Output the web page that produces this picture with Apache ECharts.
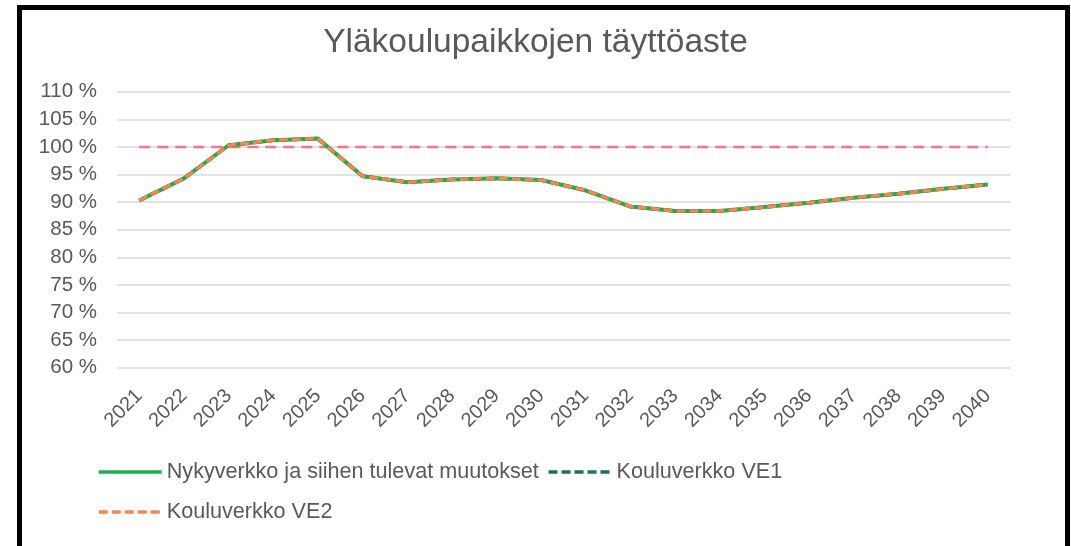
<!DOCTYPE html>
<html>
<head>
<meta charset="utf-8">
<script src="https://cdn.jsdelivr.net/npm/echarts@6/dist/echarts.min.js"></script>
<style>
  html, body { margin: 0; padding: 0; background: #fff; }
  #chart { position: absolute; left: 0; top: 0; width: 1071px; height: 546px; }
  #frame { position: absolute; left: 17px; top: 5px; width: 1043px; height: 620px;
           border: 5px solid #000; pointer-events: none; }
</style>
</head>
<body>
<div id="chart"></div>
<div id="frame"></div>
<script>
const years = ['2021','2022','2023','2024','2025','2026','2027','2028','2029','2030',
               '2031','2032','2033','2034','2035','2036','2037','2038','2039','2040'];
const nykyverkko = [90.3, 94.3, 100.3, 101.2, 101.5, 94.7, 93.6, 94.1, 94.3, 94.0,
                    92.1, 89.2, 88.4, 88.4, 89.1, 89.9, 90.8, 91.5, 92.4, 93.2];
const ve1 = [90.3, 94.3, 100.3, 101.2, 101.5, 94.7, 93.6, 94.1, 94.3, 94.0,
             92.1, 89.2, 88.4, 88.4, 89.1, 89.9, 90.8, 91.5, 92.4, 93.2];
const ve2 = [90.3, 94.3, 100.3, 101.2, 101.5, 94.7, 93.6, 94.1, 94.3, 94.0,
             92.1, 89.2, 88.4, 88.4, 89.1, 89.9, 90.8, 91.5, 92.4, 93.2];
const capacity = [100, 100, 100, 100, 100, 100, 100, 100, 100, 100,
                  100, 100, 100, 100, 100, 100, 100, 100, 100, 100];
const seriesNames = ['Nykyverkko ja siihen tulevat muutokset', 'Kouluverkko VE1', 'Kouluverkko VE2'];

const font = 'Liberation Sans, Arial, sans-serif';
const grey = '#595959';
const cGreen = '#16b04c', cTeal = '#1d6f5a', cOrange = '#f5874a';
const noSym = { color: 'transparent', borderWidth: 0, opacity: 0 };
const chart = echarts.init(document.getElementById('chart'), null, { renderer: 'canvas' });
chart.setOption({
  animation: false,
  backgroundColor: '#fff',
  title: {
    text: 'Yläkoulupaikkojen täyttöaste',
    left: 'center',
    top: 21,
    textStyle: { fontFamily: font, fontSize: 33.5, fontWeight: 'normal', color: grey }
  },
  legend: [
    {
      data: [
        { name: seriesNames[0], itemStyle: noSym, lineStyle: { color: cGreen, width: 3.5, type: 'solid' } },
        { name: seriesNames[1], itemStyle: noSym, lineStyle: { color: cTeal, width: 3.5, type: [9, 4] } }
      ],
      left: 92, top: 456,
      orient: 'horizontal',
      itemWidth: 63, itemHeight: 14, itemGap: 8,
      textStyle: { fontFamily: font, fontSize: 21.6, color: grey }
    },
    {
      data: [
        { name: seriesNames[2], itemStyle: noSym, lineStyle: { color: cOrange, width: 3.5, type: [9, 4] } }
      ],
      left: 92, top: 496,
      orient: 'horizontal',
      itemWidth: 63, itemHeight: 14, itemGap: 8,
      textStyle: { fontFamily: font, fontSize: 21.6, color: grey }
    }
  ],
  grid: { left: 117, right: 61, top: 91.7, bottom: 178.3 },
  xAxis: {
    type: 'category',
    data: years,
    boundaryGap: true,
    axisLine: { show: false },
    axisTick: { show: false },
    axisLabel: { rotate: 45, margin: 25, fontFamily: font, fontSize: 20, color: grey, interval: 0 }
  },
  yAxis: {
    type: 'value',
    min: 60, max: 110, interval: 5,
    axisLine: { show: false },
    axisTick: { show: false },
    axisLabel: { formatter: '{value} %', margin: 20, fontFamily: font, fontSize: 20.5, color: grey },
    splitLine: { lineStyle: { color: '#d9d9d9', width: 1.5 } }
  },
  series: [
    {
      name: 'capacity',
      type: 'line',
      data: capacity,
      symbol: 'none',
      silent: true,
      lineStyle: { color: '#ff6f8e', width: 2.5, type: [11, 7] },
      z: 1
    },
    {
      name: seriesNames[0],
      type: 'line',
      data: nykyverkko,
      symbol: 'none',
      color: cGreen,
      lineStyle: { color: cGreen, width: 4 },
      z: 2
    },
    {
      name: seriesNames[1],
      type: 'line',
      data: ve1,
      symbol: 'none',
      color: cTeal,
      lineStyle: { color: cTeal, width: 3.5, type: [9, 4] },
      z: 3
    },
    {
      name: seriesNames[2],
      type: 'line',
      data: ve2,
      symbol: 'none',
      color: cOrange,
      lineStyle: { color: cOrange, width: 3.5, type: [9, 4] },
      z: 4
    }
  ]
});
</script>
</body>
</html>
